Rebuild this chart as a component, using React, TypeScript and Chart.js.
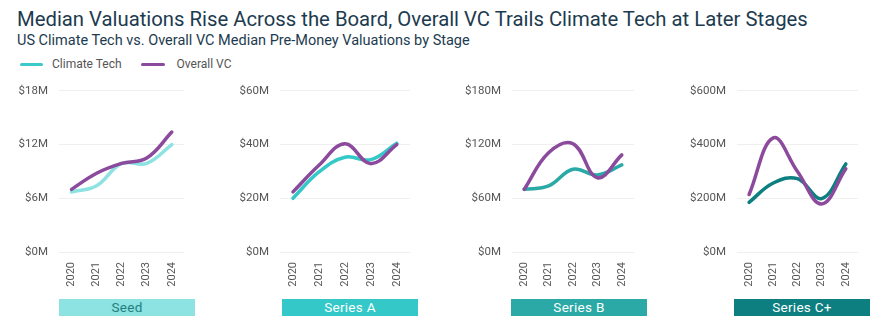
import React, { useEffect, useRef } from "react";
import { Chart, registerables } from "chart.js";

Chart.register(...registerables);

const years = ["2020", "2021", "2022", "2023", "2024"];
const stages = ["Seed", "Series A", "Series B", "Series C+"];

const climateSeed = [6.7, 7.4, 9.9, 9.9, 12.0];
const overallSeed = [7.0, 8.8, 9.9, 10.5, 13.4];
const climateA = [20.0, 29.8, 35.3, 34.4, 40.5];
const overallA = [22.4, 32.3, 40.3, 32.9, 40.0];
const climateB = [70, 73.8, 92.4, 86, 97.3];
const overallB = [70, 111, 121, 83, 108.5];
const climateC = [185, 257, 273, 199, 328];
const overallC = [214, 425, 300, 179, 310];

const yMaxes = [18, 60, 180, 600];
const ySteps = [6, 20, 60, 200];

const climateSeries = [climateSeed, climateA, climateB, climateC];
const overallSeries = [overallSeed, overallA, overallB, overallC];

// styles / layout
const climateColors = ["#8de2e2", "#34c8c8", "#2aa9a6", "#0e7f80"];
const bandText = ["#1f7f80", "#ffffff", "#ffffff", "#ffffff"];
const purple = "#8c4a9c";
const plotLefts = [59, 280, 512, 737];
const plotRights = [195, 420, 645, 869];
const bandLefts = [59, 282, 511, 734];
const bandRights = [195, 418, 647, 870];
const AXIS_W = 60;
const CANVAS_TOP = 73;
const CANVAS_H = 227;
const FONT = "Roboto, 'Open Sans', sans-serif";

export default function App() {
  const refs = useRef<(HTMLCanvasElement | null)[]>([]);

  useEffect(() => {
    const charts = stages.map((stage, i) => {
      const canvas = refs.current[i]!;
      return new Chart(canvas, {
        type: "line",
        data: {
          labels: years,
          datasets: [
            {
              label: "Climate Tech",
              data: climateSeries[i],
              borderColor: climateColors[i],
              backgroundColor: climateColors[i],
              borderWidth: 3.5,
              tension: 0.4,
              pointRadius: 0,
              fill: false,
              order: 2,
              borderCapStyle: "round",
            },
            {
              label: "Overall VC",
              data: overallSeries[i],
              borderColor: purple,
              backgroundColor: purple,
              borderWidth: 3.5,
              tension: 0.4,
              pointRadius: 0,
              fill: false,
              order: 1,
              borderCapStyle: "round",
            },
          ],
        },
        options: {
          responsive: false,
          maintainAspectRatio: false,
          animation: false,
          layout: { padding: { top: 0, left: 0, right: 0, bottom: 0 } },
          plugins: {
            legend: { display: false },
            tooltip: { enabled: false },
            title: { display: false },
          },
          scales: {
            x: {
              offset: true,
              grid: { display: false, drawTicks: false },
              border: { display: false },
              ticks: {
                minRotation: 90,
                maxRotation: 90,
                padding: 10,
                color: "#555555",
                font: { family: FONT, size: 11 },
              },
              afterFit: (s: any) => {
                s.height = 48;
              },
            },
            y: {
              min: 0,
              max: yMaxes[i],
              ticks: {
                stepSize: ySteps[i],
                padding: 11,
                color: "#555555",
                font: { family: FONT, size: 11.5 },
                callback: (v: any) => "$" + v + "M",
              },
              grid: { color: "#efefef", drawTicks: false, lineWidth: 1 },
              border: { display: false },
              afterFit: (s: any) => {
                s.width = AXIS_W;
              },
            },
          },
        },
      } as any);
    });
    return () => charts.forEach((c) => c.destroy());
  }, []);

  return (
    <div
      style={{
        position: "fixed",
        left: 0,
        top: 0,
        width: 887,
        height: 329,
        background: "#ffffff",
        fontFamily: FONT,
        overflow: "hidden",
      }}
    >
      <div
        style={{
          position: "absolute",
          left: 17,
          top: 7,
          fontSize: 20.3,
          lineHeight: "24px",
          color: "#1d3b4f",
          whiteSpace: "nowrap",
        }}
      >
        Median Valuations Rise Across the Board, Overall VC Trails Climate Tech at Later Stages
      </div>
      <div
        style={{
          position: "absolute",
          left: 17,
          top: 33,
          fontSize: 14.5,
          lineHeight: "16px",
          color: "#1d3b4f",
          whiteSpace: "nowrap",
        }}
      >
        US Climate Tech vs. Overall VC Median Pre-Money Valuations by Stage
      </div>
      <div
        style={{
          position: "absolute",
          left: 20,
          top: 56,
          height: 16,
          display: "flex",
          alignItems: "center",
          fontSize: 12,
          color: "#555555",
          whiteSpace: "nowrap",
        }}
      >
        <span style={{ display: "inline-block", width: 23, height: 3, background: "#3cc9c9", borderRadius: 2, marginRight: 9 }} />
        <span style={{ marginRight: 19 }}>Climate Tech</span>
        <span style={{ display: "inline-block", width: 24, height: 3, background: purple, borderRadius: 2, marginRight: 12 }} />
        <span>Overall VC</span>
      </div>
      {stages.map((stage, i) => (
        <React.Fragment key={stage}>
          <canvas
            ref={(el) => {
              refs.current[i] = el;
            }}
            width={plotRights[i] - plotLefts[i] + AXIS_W}
            height={CANVAS_H}
            style={{
              position: "absolute",
              left: plotLefts[i] - AXIS_W,
              top: CANVAS_TOP,
              width: plotRights[i] - plotLefts[i] + AXIS_W,
              height: CANVAS_H,
              display: "block",
            }}
          />
          <div
            style={{
              position: "absolute",
              left: bandLefts[i],
              top: 299,
              width: bandRights[i] - bandLefts[i],
              height: 17,
              background: climateColors[i],
              color: bandText[i],
              fontSize: 13.5,
              lineHeight: "17px",
              textAlign: "center",
              letterSpacing: 0.3,
            }}
          >
            {stage}
          </div>
        </React.Fragment>
      ))}
    </div>
  );
}
